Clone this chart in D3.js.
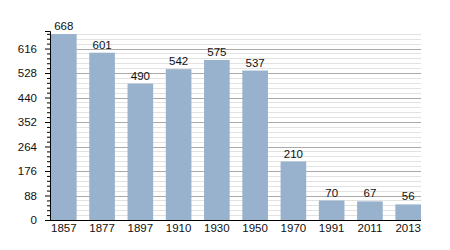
<!DOCTYPE html>
<html>
<head>
<meta charset="utf-8">
<script src="https://cdn.jsdelivr.net/npm/d3@7"></script>
<style>
  body { margin: 0; background: #fff; }
  text { font-family: "Liberation Sans Narrow", "Liberation Sans", Arial, sans-serif; font-size: 11.5px; fill: #111; }
</style>
</head>
<body>
<svg width="450" height="250"></svg>
<script>
var years = ["1857", "1877", "1897", "1910", "1930", "1950", "1970", "1991", "2011", "2013"];
var population = [668, 601, 490, 542, 575, 537, 210, 70, 67, 56];
var majorTicks = [0, 88, 176, 264, 352, 440, 528, 616];

var svg = d3.select("svg");
var plotLeft = 50, plotRight = 421, plotTop = 31, plotBottom = 220;

var x = d3.scaleBand().domain(years).range([plotLeft + 1, plotRight]).paddingInner(0.33).paddingOuter(0);
var y = d3.scaleLinear().domain([0, 679]).range([plotBottom, plotTop]);

var minorTicks = d3.range(0, 679, 17.6).filter(function(v) { return Math.abs(v / 88 - Math.round(v / 88)) > 0.01; });

// minor grid
svg.selectAll(".minor")
    .data(minorTicks).enter()
    .append("line")
    .attr("x1", plotLeft).attr("x2", plotRight)
    .attr("y1", function(d) { return Math.round(y(d)) + 0.5 })
    .attr("y2", function(d) { return Math.round(y(d)) + 0.5 })
    .attr("stroke", "#e2e2e2");

// major grid
svg.selectAll(".major")
    .data(majorTicks.slice(1)).enter()
    .append("line")
    .attr("x1", plotLeft).attr("x2", plotRight)
    .attr("y1", function(d) { return Math.round(y(d)) + 0.5 })
    .attr("y2", function(d) { return Math.round(y(d)) + 0.5 })
    .attr("stroke", "#aaaaaa");

// bars
svg.selectAll(".bar")
    .data(population).enter()
    .append("rect")
    .attr("fill", "#98b1cc")
    .attr("x", function(d, i) { return x(years[i]) })
    .attr("width", x.bandwidth())
    .attr("y", function(d) { return y(d) })
    .attr("height", function(d) { return y(0) - y(d) });

// value labels
svg.selectAll(".val")
    .data(population).enter()
    .append("text")
    .attr("text-anchor", "middle")
    .attr("x", function(d, i) { return x(years[i]) + x.bandwidth() / 2 })
    .attr("y", function(d) { return y(d) - 4 })
    .text(function(d) { return d });

// y axis
var yAxis = svg.append("g").attr("transform", "translate(" + plotLeft + ",0)")
    .call(d3.axisLeft(y).tickValues(majorTicks).tickSize(5).tickPadding(8));
yAxis.select(".domain").attr("stroke", "#000");
yAxis.selectAll(".tick line").attr("stroke", "#000");
yAxis.selectAll("text").style("font-size", "11.5px").style("font-family", null).attr("fill", "#111");

var yMinor = svg.append("g").attr("transform", "translate(" + plotLeft + ",0)")
    .call(d3.axisLeft(y).tickValues(minorTicks).tickSize(3).tickFormat(""));
yMinor.select(".domain").remove();
yMinor.selectAll(".tick line").attr("stroke", "#000");

// x axis
svg.append("line")
    .attr("x1", plotLeft).attr("x2", plotRight)
    .attr("y1", plotBottom + 0.5).attr("y2", plotBottom + 0.5)
    .attr("stroke", "#000");

svg.selectAll(".year")
    .data(years).enter()
    .append("text")
    .attr("text-anchor", "middle")
    .attr("x", function(d) { return x(d) + x.bandwidth() / 2 })
    .attr("y", 232)
    .text(function(d) { return d });
</script>
</body>
</html>
